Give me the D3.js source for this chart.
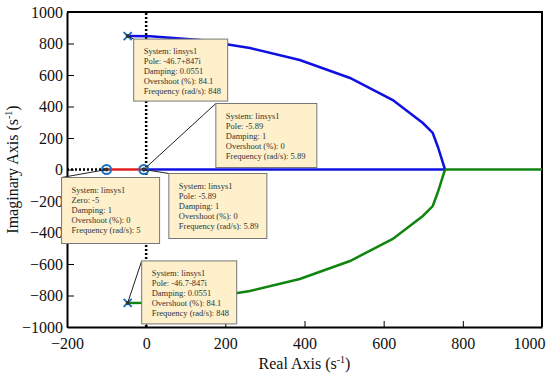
<!DOCTYPE html>
<html>
<head>
<meta charset="utf-8">
<script src="https://cdn.jsdelivr.net/npm/d3@7"></script>
<style>
  body { margin: 0; background: #fff; }
</style>
</head>
<body>
<svg id="locus"></svg>
<script>
const serif = "'Liberation Serif', 'Times New Roman', serif";

// Tick values
const xTicks = [-200, 0, 200, 400, 600, 800, 1000];
const yTicks = [-1000, -800, -600, -400, -200, 0, 200, 400, 600, 800, 1000];

// Upper complex branch (real, imag)
const upperBranch = [
  [-46.7, 847], [10, 846], [136, 822], [262, 771], [388, 695],
  [515, 581], [623, 441], [699, 295], [724, 232], [737, 143], [755, 0]
];
// Lower branch is the mirror image
const lowerBranch = upperBranch.map(d => [d[0], -d[1]]);

// Real-axis segments
const blueReal = [[-5.89, 0], [755, 0]];
const greenReal = [[755, 0], [1000, 0]];
const redReal = [[-100, 0], [-5.89, 0]];
const dottedReal = [[-200, 0], [-100, 0]];
const dottedImag = [[0, -1000], [0, 1000]];

// Poles and zeros on the plot
const poles = [[-46.7, 847], [-46.7, -847]];
const zeros = [[-100, 0], [-5.89, 0]];

// Data tips: anchor point, box offset, lines of text
const tips = [
  {at: [-46.7, 847], dx: 6, dy: 3, w: 94, h: 62,
   lines: ["System: linsys1", "Pole: -46.7+847i", "Damping: 0.0551", "Overshoot (%): 84.1", "Frequency (rad/s): 848"]},
  {at: [-5.89, 0], dx: 72, dy: -66, w: 101, h: 64,
   lines: ["System: linsys1", "Pole: -5.89", "Damping: 1", "Overshoot (%): 0", "Frequency (rad/s): 5.89"]},
  {at: [-100, 0], dx: -45, dy: 8, w: 98, h: 66,
   lines: ["System: linsys1", "Zero: -5", "Damping: 1", "Overshoot (%): 0", "Frequency (rad/s): 5"]},
  {at: [-5.89, 0], dx: 25, dy: 4, w: 98, h: 65,
   lines: ["System: linsys1", "Pole: -5.89", "Damping: 1", "Overshoot (%): 0", "Frequency (rad/s): 5.89"]},
  {at: [-46.7, -847], dx: 14, dy: -42, w: 95, h: 63,
   lines: ["System: linsys1", "Pole: -46.7-847i", "Damping: 0.0551", "Overshoot (%): 84.1", "Frequency (rad/s): 848"]}
];

const width = 550, height = 375;
const margin = {top: 12, right: 8, bottom: 48, left: 67};

const svg = d3.select("#locus")
  .attr("width", width)
  .attr("height", height);

const x = d3.scaleLinear().domain([-200, 1000]).range([margin.left, width - margin.right]);
const y = d3.scaleLinear().domain([-1000, 1000]).range([height - margin.bottom, margin.top]);

const line = d3.line().x(d => x(d[0])).y(d => y(d[1]));
const fmt = d3.format("d");

// Axes with inward ticks
svg.append("g")
  .attr("transform", `translate(0,${y(-1000)})`)
  .call(d3.axisBottom(x).tickValues(xTicks).tickFormat(fmt).tickSizeInner(-6).tickSizeOuter(0).tickPadding(11))
  .call(g => g.select(".domain").attr("stroke-width", 2))
  .call(g => g.selectAll("text").style("font-family", serif).attr("font-size", 16).attr("fill", "#111"))
  .call(g => g.selectAll("text").filter(d => d === 1000).attr("text-anchor", "end").attr("dx", 3));

svg.append("g")
  .attr("transform", `translate(${x(-200)},0)`)
  .call(d3.axisLeft(y).tickValues(yTicks).tickFormat(fmt).tickSizeInner(-7).tickSizeOuter(0).tickPadding(4))
  .call(g => g.select(".domain").attr("stroke-width", 2))
  .call(g => g.selectAll("text").style("font-family", serif).attr("font-size", 16).attr("fill", "#111"));

// Top and right frame
svg.append("path")
  .attr("d", `M${x(-200)},${y(1000)}H${x(1000)}V${y(-1000)}`)
  .attr("fill", "none")
  .attr("stroke", "#000")
  .attr("stroke-width", 2);

// Dotted asymptote / axis lines
[dottedImag, dottedReal].forEach(seg => {
  svg.append("path")
    .attr("d", line(seg))
    .attr("stroke", "#000")
    .attr("stroke-width", 2.5)
    .attr("stroke-dasharray", "2,2")
    .attr("fill", "none");
});

// Locus branches
const branches = [
  {pts: upperBranch, color: "#1010e0"},
  {pts: blueReal, color: "#1010e0"},
  {pts: lowerBranch, color: "#108510"},
  {pts: greenReal, color: "#108510"},
  {pts: redReal, color: "#e02020"}
];
branches.forEach(b => {
  svg.append("path")
    .attr("d", line(b.pts))
    .attr("stroke", b.color)
    .attr("stroke-width", 2.5)
    .attr("fill", "none");
});

// Zeros (circles)
svg.selectAll(".zero")
  .data(zeros)
  .join("circle")
  .attr("cx", d => x(d[0]))
  .attr("cy", d => y(d[1]))
  .attr("r", 4.5)
  .attr("fill", "none")
  .attr("stroke", "#1a6fc4")
  .attr("stroke-width", 2);

// Poles (crosses)
svg.selectAll(".pole")
  .data(poles)
  .join("path")
  .attr("d", d => {
    const cx = x(d[0]), cy = y(d[1]), s = 4;
    return `M${cx - s},${cy - s}L${cx + s},${cy + s}M${cx - s},${cy + s}L${cx + s},${cy - s}`;
  })
  .attr("stroke", "#1a6fc4")
  .attr("stroke-width", 2);

// Data tips
tips.forEach(t => {
  const ax = x(t.at[0]), ay = y(t.at[1]);
  const bx = ax + t.dx, by = ay + t.dy;
  svg.append("line")
    .attr("x1", ax).attr("y1", ay)
    .attr("x2", bx).attr("y2", by)
    .attr("stroke", "#222")
    .attr("stroke-width", 1);
  svg.append("circle")
    .attr("cx", ax).attr("cy", ay).attr("r", 2)
    .attr("fill", "#333");
  const g = svg.append("g").attr("transform", `translate(${bx},${by})`);
  g.append("rect")
    .attr("width", t.w)
    .attr("height", t.h)
    .attr("fill", "#fdf0cb")
    .attr("stroke", "#777")
    .attr("stroke-width", 1);
  g.selectAll("text")
    .data(t.lines)
    .join("text")
    .attr("x", 10)
    .attr("y", (d, i) => 15 + i * 10)
    .style("font-family", serif)
    .attr("font-size", 8.5)
    .attr("fill", "#333")
    .text(d => d);
});

// Axis titles
const xt = svg.append("text")
  .attr("x", (x(-200) + x(1000)) / 2)
  .attr("y", 369)
  .attr("text-anchor", "middle")
  .style("font-family", serif)
  .attr("font-size", 16)
  .attr("fill", "#111")
  .text("Real Axis (s");
xt.append("tspan").attr("font-size", 10).attr("dy", -6).text("-1");
xt.append("tspan").attr("dy", 6).text(")");

const yt = svg.append("text")
  .attr("transform", `translate(18,${y(0)}) rotate(-90)`)
  .attr("text-anchor", "middle")
  .style("font-family", serif)
  .attr("font-size", 16)
  .attr("fill", "#111")
  .text("Imaginary Axis (s");
yt.append("tspan").attr("font-size", 10).attr("dy", -6).text("-1");
yt.append("tspan").attr("dy", 6).text(")");
</script>
</body>
</html>
